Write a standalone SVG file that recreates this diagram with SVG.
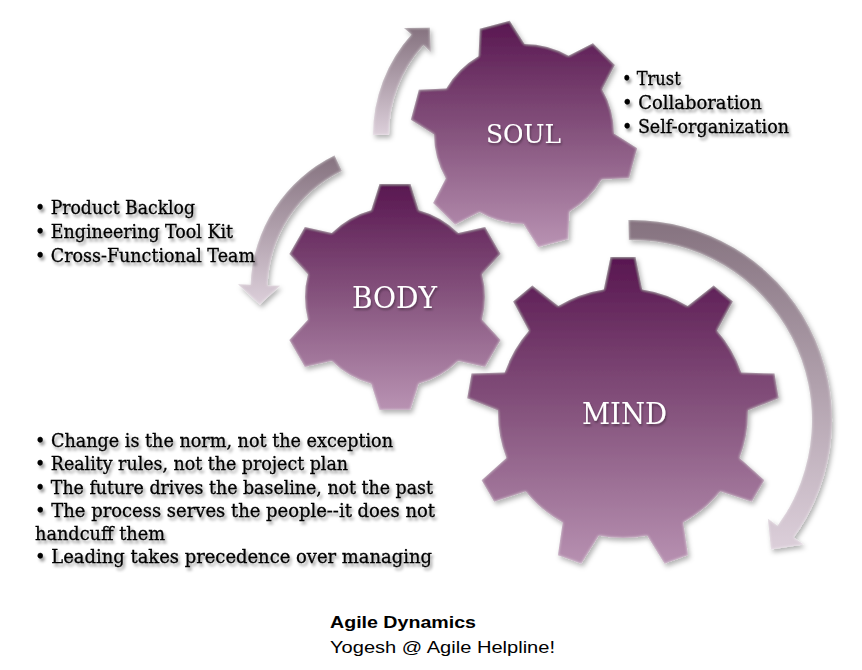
<svg xmlns="http://www.w3.org/2000/svg" xmlns:xlink="http://www.w3.org/1999/xlink" width="862" height="670" viewBox="0 0 862 670">
<style>
.bul{font-family:"DejaVu Serif","Liberation Serif",serif;font-size:18px;fill:#000;stroke:#000;stroke-width:0.3;}
.lbl{font-family:"DejaVu Serif","Liberation Serif",serif;fill:#fff;}
.foot{font-family:"Liberation Sans",Arial,sans-serif;font-size:16.5px;fill:#000;}
</style>
<defs>
<linearGradient id="gearGrad" x1="0" y1="0" x2="0" y2="1">
<stop offset="0" stop-color="#581650"/>
<stop offset="0.5" stop-color="#86547e"/>
<stop offset="1" stop-color="#b993b3"/>
</linearGradient>
<linearGradient id="arrGrad" x1="0" y1="0" x2="0" y2="1">
<stop offset="0" stop-color="#85727f"/>
<stop offset="1" stop-color="#dccfda"/>
</linearGradient>
<filter id="gsh" x="-10%" y="-10%" width="125%" height="125%">
<feGaussianBlur in="SourceAlpha" stdDeviation="2.5" result="b"/>
<feOffset in="b" dx="1.5" dy="2.5" result="o"/>
<feFlood flood-color="#000" flood-opacity="0.3"/>
<feComposite in2="o" operator="in" result="sh"/>
<feGaussianBlur in="SourceAlpha" stdDeviation="1.5" result="b2"/>
<feComposite in="SourceAlpha" in2="b2" operator="out" result="edge"/>
<feFlood flood-color="#fff" flood-opacity="0.55"/>
<feComposite in2="edge" operator="in" result="hl"/>
<feMerge><feMergeNode in="sh"/><feMergeNode in="SourceGraphic"/><feMergeNode in="hl"/></feMerge>
</filter>
<filter id="tsh" x="-5%" y="-30%" width="115%" height="170%">
<feGaussianBlur in="SourceAlpha" stdDeviation="1.6" result="b"/>
<feOffset in="b" dx="2" dy="2.5" result="o"/>
<feFlood flood-color="#000" flood-opacity="0.4"/>
<feComposite in2="o" operator="in" result="sh"/>
<feMerge><feMergeNode in="sh"/><feMergeNode in="SourceGraphic"/></feMerge>
</filter>
<filter id="lsh" x="-10%" y="-30%" width="125%" height="170%">
<feGaussianBlur in="SourceAlpha" stdDeviation="1" result="b"/>
<feOffset in="b" dx="1" dy="1.5" result="o"/>
<feFlood flood-color="#000" flood-opacity="0.35"/>
<feComposite in2="o" operator="in" result="sh"/>
<feMerge><feMergeNode in="sh"/><feMergeNode in="SourceGraphic"/></feMerge>
</filter>
<polygon id="t6" points="-15.5,-113 15.5,-113 26,-80 -26,-80"/>
<polygon id="t9" points="-12.5,-156 12.5,-156 21,-115 -21,-115"/>
<clipPath id="clipBody">
<circle r="90"/>
<use xlink:href="#t6"/><use xlink:href="#t6" transform="rotate(60)"/><use xlink:href="#t6" transform="rotate(120)"/>
<use xlink:href="#t6" transform="rotate(180)"/><use xlink:href="#t6" transform="rotate(240)"/><use xlink:href="#t6" transform="rotate(300)"/>
</clipPath>
<clipPath id="clipSoul">
<circle r="90"/>
<use xlink:href="#t6" transform="rotate(45)"/><use xlink:href="#t6" transform="rotate(105)"/><use xlink:href="#t6" transform="rotate(165)"/>
<use xlink:href="#t6" transform="rotate(225)"/><use xlink:href="#t6" transform="rotate(285)"/><use xlink:href="#t6" transform="rotate(345)"/>
</clipPath>
<clipPath id="clipMind">
<circle r="125"/>
<use xlink:href="#t9"/><use xlink:href="#t9" transform="rotate(40)"/><use xlink:href="#t9" transform="rotate(80)"/>
<use xlink:href="#t9" transform="rotate(120)"/><use xlink:href="#t9" transform="rotate(160)"/><use xlink:href="#t9" transform="rotate(200)"/>
<use xlink:href="#t9" transform="rotate(240)"/><use xlink:href="#t9" transform="rotate(280)"/><use xlink:href="#t9" transform="rotate(320)"/>
</clipPath>
</defs>
<rect width="862" height="670" fill="#fff"/>

<g id="connectors" fill="url(#arrGrad)" filter="url(#gsh)">
<path id="arrow-soul" d="M373,135 A150,150 0 0 1 411.5,34.6 L404.1,27.9 L429.8,27.8 L430.9,52.0 L423.4,45.3 A134,134 0 0 0 389,135 Z"/>
<path id="arrow-body" d="M334.5,155.6 A149.5,149.5 0 0 0 250.6,284.8 L238.1,284.3 L259.8,304.7 L280.1,285.8 L267.6,285.4 A132.5,132.5 0 0 1 341.9,170.9 Z"/>
<path id="arrow-mind" d="M628.5,220 A200,200 0 0 1 793.8,537.6 L803.5,544.6 L771,549.6 L767.9,518.8 L777.6,525.8 A180,180 0 0 0 628.9,240 Z"/>
</g>

<g id="gear-body" transform="translate(395,297)">
<g filter="url(#gsh)"><rect x="-114" y="-114" width="228" height="228" fill="url(#gearGrad)" clip-path="url(#clipBody)"/></g>
<text class="lbl" x="-43" y="11" font-size="29" textLength="85" lengthAdjust="spacingAndGlyphs" filter="url(#lsh)">BODY</text>
</g>

<g id="gear-soul" transform="translate(524,134)">
<g filter="url(#gsh)"><rect x="-114" y="-114" width="228" height="228" fill="url(#gearGrad)" clip-path="url(#clipSoul)"/></g>
<text class="lbl" x="-38" y="9" font-size="25.5" textLength="75" lengthAdjust="spacingAndGlyphs" filter="url(#lsh)">SOUL</text>
</g>

<g id="gear-mind" transform="translate(623,413)">
<g filter="url(#gsh)"><rect x="-157" y="-157" width="314" height="314" fill="url(#gearGrad)" clip-path="url(#clipMind)"/></g>
<text class="lbl" x="-41" y="10.5" font-size="30" textLength="85" lengthAdjust="spacingAndGlyphs" filter="url(#lsh)">MIND</text>
</g>

<g id="soul-list" class="bul" filter="url(#tsh)">
<text x="622" y="85" textLength="58.7" lengthAdjust="spacingAndGlyphs">• Trust</text>
<text x="622" y="109" textLength="139.7" lengthAdjust="spacingAndGlyphs">• Collaboration</text>
<text x="622" y="133" textLength="167" lengthAdjust="spacingAndGlyphs">• Self-organization</text>
</g>

<g id="body-list" class="bul" filter="url(#tsh)">
<text x="35" y="214" textLength="160" lengthAdjust="spacingAndGlyphs">• Product Backlog</text>
<text x="35" y="238" textLength="198" lengthAdjust="spacingAndGlyphs">• Engineering Tool Kit</text>
<text x="35" y="262" textLength="220" lengthAdjust="spacingAndGlyphs">• Cross-Functional Team</text>
</g>

<g id="mind-list" class="bul" filter="url(#tsh)">
<text x="35" y="447" textLength="358" lengthAdjust="spacingAndGlyphs">• Change is the norm, not the exception</text>
<text x="35" y="470" textLength="313" lengthAdjust="spacingAndGlyphs">• Reality rules, not the project plan</text>
<text x="35" y="493.5" textLength="398" lengthAdjust="spacingAndGlyphs">• The future drives the baseline, not the past</text>
<text x="35" y="516.5" textLength="400" lengthAdjust="spacingAndGlyphs">• The process serves the people--it does not</text>
<text x="35" y="539.5" textLength="130" lengthAdjust="spacingAndGlyphs">handcuff them</text>
<text x="35" y="562.5" textLength="397" lengthAdjust="spacingAndGlyphs">• Leading takes precedence over managing</text>
</g>

<g id="footer" class="foot">
<text x="330" y="628" font-weight="bold" textLength="146" lengthAdjust="spacingAndGlyphs">Agile Dynamics</text>
<text x="330" y="652.5" textLength="225" lengthAdjust="spacingAndGlyphs">Yogesh @ Agile Helpline!</text>
</g>
</svg>
